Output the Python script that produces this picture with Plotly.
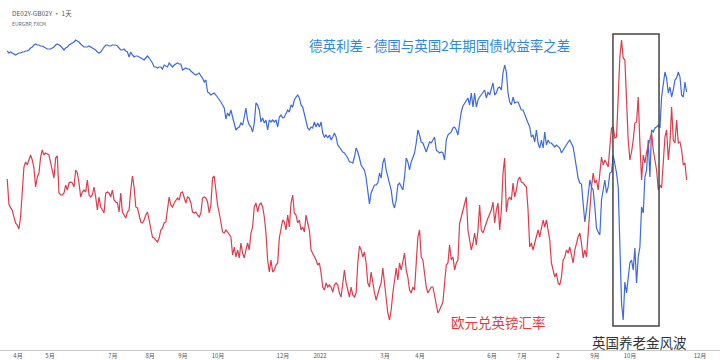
import pandas as pd
import plotly.graph_objects as go

# Sample dates (evenly spaced over the chart span)
dates = pd.date_range("2021-03-22 09:00", "2022-11-19 02:00", periods=408)

# DE02Y - GB02Y spread (bp)
spread_a = [-51,-53,-52,-53,-54,-55,-54,-53,-53,-52,-52,-51,-51,-50,-48,-47,-45,-44,-45,-45,
            -46,-46,-47,-48,-49,-49,-49,-48,-47,-45,-44,-45,-46,-48,-50,-48,-47,-45,-44,-43,
            -42,-40,-41,-42,-44,-46,-47,-47,-47,-46,-47,-48,-49,-50,-52,-53,-52,-49,-47,-45,
            -45,-46,-46,-45,-45,-45,-46]
spread_b = [-48,-50,-50,-49,-51,-52,-57,-52,-55,-57,-56,-56,-57,-58,-59,-60,-58,-56,-58,-60,
            -63,-67,-67,-68,-67,-67,-69,-65,-66,-67,-63,-65,-67,-65,-64,-63,-64,-64,-70,-69,
            -68,-69,-69,-71,-73,-74,-75,-74,-73,-76,-78,-82,-80,-92,-93,-95,-94,-93,-95,-97,
            -99,-102,-105,-108,-119,-113,-116,-110,-117]
spread_c = [-123,-130,-128,-127,-123,-125,-117,-108,-120,-125,-127,-132,-123,-103,-105,-110,-122,-118,-123,-120,
            -130,-120,-122,-120,-122,-120,-127,-117,-115,-118,-117,-113,-110,-112,-105,-107,-100,-97,-95,-98,
            -105,-107,-115,-120,-128,-130,-127,-128,-122,-127,-123,-127,-122,-133,-137,-135,-138,-135,-140,-137,
            -133,-137,-145,-147,-150,-152]
spread_d = [-153,-155,-158,-162,-162,-163,-157,-148,-152,-158,-165,-168,-170,-178,-190,-204,-193,-188,-185,-185,
            -183,-173,-178,-163,-158,-170,-177,-182,-190,-203,-208,-200,-185,-183,-187,-190,-177,-158,-162,-170,
            -162,-157,-153,-143,-130,-135,-142,-143,-148,-152,-147,-142,-143,-140,-137,-150,-152,-153,-152,-153,
            -160,-140,-135,-133,-132,-128,-127,-130,-135]
spread_e = [-123,-112,-106,-103,-100,-98,-105,-93,-107,-93,-107,-100,-97,-95,-93,-90,-98,-92,-95,-88,
            -83,-95,-93,-88,-87,-90,-73,-65,-72,-93,-102,-105,-97,-103,-102,-102,-107,-110,-110,-115,
            -118,-123,-127,-137,-135,-142,-130,-143,-148,-140,-148,-132,-145,-140,-143,-143,-145,-147,-145,-147,
            -148,-153,-150,-148,-145,-142,-140,-143,-147,-157,-167,-178]
spread_f = [-183,-184,-203,-222,-210,-197,-180,-187,-190,-207,-228,-232,-235,-200,-190,-180,-193,-187,-173,-172,
            -155,-163,-173,-187,-237,-303,-320,-282,-293,-277,-263,-260,-270,-248,-283,-257,-247,-207,-213,-177,
            -170,-140,-177,-130,-132,-128,-127,-125,-128,-97,-85,-72,-78,-93,-87,-97,-90,-80,-78,-72,
            -77,-95,-97,-82,-92]
spread_bp = spread_a + spread_b + spread_c + spread_d + spread_e + spread_f

# EURGBP rate
fx_a = [.8763,.8688,.8676,.8670,.8649,.8631,.8625,.8613,.8649,.8724,
        .8799,.8814,.8805,.8820,.8835,.8820,.8796,.8739,.8769,.8781,
        .8829,.8850,.8835,.8841,.8838,.8835,.8811,.8790,.8766,.8826,
        .8832,.8721,.8715,.8715,.8721,.8745,.8730,.8751,.8754,.8751,
        .8739,.8790,.8781,.8751,.8709,.8724,.8730,.8724,.8760,.8715,
        .8709,.8715,.8739,.8709,.8670,.8709,.8679,.8670,.8661,.8721,
        .8724,.8721,.8709,.8730,.8700,.8694,.8691]
fx_b = [.8664,.8721,.8664,.8655,.8646,.8664,.8670,.8730,.8772,.8739,
        .8679,.8676,.8655,.8634,.8631,.8640,.8655,.8664,.8640,.8616,
        .8589,.8586,.8580,.8574,.8586,.8610,.8616,.8631,.8634,.8679,
        .8709,.8685,.8679,.8691,.8700,.8706,.8700,.8721,.8724,.8709,
        .8691,.8709,.8706,.8691,.8664,.8661,.8664,.8655,.8649,.8661,
        .8706,.8709,.8706,.8694,.8661,.8685,.8766,.8772,.8721,.8685,
        .8661,.8631,.8604,.8601,.8610,.8604,.8595,.8589,.8535]
fx_c = [.8559,.8529,.8550,.8526,.8571,.8541,.8526,.8550,.8571,.8550,
        .8601,.8619,.8679,.8691,.8664,.8685,.8691,.8679,.8649,.8601,
        .8520,.8484,.8520,.8484,.8490,.8505,.8511,.8586,.8610,.8640,
        .8634,.8610,.8655,.8619,.8691,.8715,.8661,.8655,.8631,.8640,
        .8610,.8619,.8604,.8655,.8631,.8610,.8550,.8541,.8529,.8520,
        .8505,.8511,.8481,.8439,.8430,.8451,.8439,.8445,.8439,.8424,
        .8445,.8451,.8445,.8421,.8409,.8460]
fx_d = [.8490,.8451,.8430,.8409,.8439,.8415,.8409,.8421,.8511,.8562,
        .8550,.8529,.8544,.8511,.8451,.8439,.8484,.8451,.8421,.8400,
        .8421,.8436,.8451,.8496,.8451,.8409,.8361,.8340,.8370,.8421,
        .8469,.8496,.8460,.8511,.8490,.8520,.8541,.8490,.8469,.8430,
        .8421,.8439,.8430,.8511,.8589,.8610,.8529,.8520,.8469,.8439,
        .8421,.8430,.8439,.8439,.8409,.8379,.8361,.8370,.8385,.8394,
        .8451,.8505,.8511,.8565,.8520,.8529,.8490,.8511,.8520]
fx_e = [.8631,.8649,.8670,.8691,.8709,.8610,.8580,.8550,.8571,.8601,
        .8565,.8610,.8685,.8610,.8601,.8619,.8631,.8646,.8661,.8670,
        .8694,.8631,.8670,.8691,.8610,.8670,.8781,.8826,.8664,.8700,
        .8709,.8700,.8751,.8709,.8730,.8760,.8769,.8754,.8751,.8745,
        .8739,.8670,.8559,.8571,.8550,.8571,.8589,.8610,.8589,.8610,
        .8640,.8619,.8640,.8610,.8580,.8511,.8490,.8469,.8481,.8451,
        .8445,.8469,.8520,.8529,.8550,.8541,.8559,.8529,.8511,.8550,
        .8571,.8589]
fx_f = [.8601,.8571,.8526,.8550,.8529,.8589,.8670,.8739,.8781,.8751,
        .8760,.8730,.8781,.8829,.8805,.8820,.8811,.8799,.8859,.8916,
        .8919,.8886,.8889,.9009,.9129,.9180,.9126,.9120,.9009,.8880,
        .8820,.8844,.8880,.8931,.8934,.9009,.8871,.8760,.8835,.8811,
        .8844,.8865,.8880,.8901,.8850,.8820,.8790,.8730,.8745,.8736,
        .8811,.8889,.8910,.8820,.8871,.8979,.8880,.8871,.8940,.8871,
        .8874,.8850,.8805,.8811,.8760]
eurgbp = fx_a + fx_b + fx_c + fx_d + fx_e + fx_f

# Month boundaries as placed on the (bar-spaced) source axis
tick_dates = ["2021-04-01", "2021-04-29 14:00", "2021-06-24 19:00", "2021-07-27 22:00",
              "2021-08-26 07:00", "2021-09-26 14:00", "2021-11-23 14:00", "2021-12-26 17:00",
              "2022-02-22 17:00", "2022-03-26", "2022-05-29 07:00", "2022-06-25 02:00",
              "2022-07-27 05:00", "2022-08-29 05:00", "2022-09-29 12:00", "2022-12-01"]
tick_text = ["4月", "5月", "7月", "8月", "9月", "10月", "12月", "2022", "3月", "4月",
             "6月", "7月", "2", "9月", "10月", "12月"]

FONT = "Noto Sans CJK SC"
BLUE = "#3d6bdc"
RED = "#dc3d4e"

fig = go.Figure()
fig.add_trace(go.Scatter(x=dates, y=spread_bp, mode="lines",
                         line=dict(color=BLUE, width=1.2), name="DE02Y-GB02Y"))
fig.add_trace(go.Scatter(x=dates, y=eurgbp, mode="lines", yaxis="y2",
                         line=dict(color=RED, width=1.2), name="EURGBP"))

fig.update_layout(
    width=720, height=360,
    margin=dict(l=0, r=0, t=0, b=10),
    paper_bgcolor="white", plot_bgcolor="white",
    showlegend=False,
    font=dict(family=FONT),
    xaxis=dict(range=["2021-03-15 22:00", "2022-12-18 21:00"],
               tickvals=tick_dates, ticktext=tick_text,
               tickfont=dict(size=6, color="#555555", family=FONT),
               showgrid=False, zeroline=False, showline=True,
               linecolor="#c8c8c8", linewidth=1, ticks="", automargin=False),
    yaxis=dict(range=[-350, 0], visible=False, showgrid=False, zeroline=False),
    yaxis2=dict(range=[0.825, 0.93], overlaying="y", visible=False,
                showgrid=False, zeroline=False),
    shapes=[dict(type="rect", xref="x", yref="paper",
                 x0="2022-09-14 07:00", x1="2022-10-25 10:00",
                 y0=1 - 326 / 350, y1=1 - 34 / 350,
                 line=dict(color="#444444", width=1.5), fillcolor="rgba(0,0,0,0)")],
    annotations=[
        dict(text="DE02Y-GB02Y · 1天", xref="paper", yref="paper", x=0.0139, y=0.963,
             xanchor="left", yanchor="middle", showarrow=False,
             font=dict(size=6.5, color="#555555", family=FONT)),
        dict(text="EURGBP, FXCM", xref="paper", yref="paper", x=0.0139, y=0.934,
             xanchor="left", yanchor="middle", showarrow=False,
             font=dict(size=5, color="#666666", family=FONT)),
        dict(text="德英利差 - 德国与英国2年期国债收益率之差", xref="paper", yref="paper",
             x=0.6111, y=1 - 45 / 350, xanchor="center", yanchor="middle", showarrow=False,
             font=dict(size=13.5, color="#2e8ad8", family=FONT)),
        dict(text="欧元兑英镑汇率", xref="paper", yref="paper",
             x=0.6924, y=1 - 322 / 350, xanchor="center", yanchor="middle", showarrow=False,
             font=dict(size=13.5, color="#e03c3c", family=FONT)),
        dict(text="英国养老金风波", xref="paper", yref="paper",
             x=0.8882, y=1 - 342 / 350, xanchor="center", yanchor="middle", showarrow=False,
             font=dict(size=13.5, color="#333333", family=FONT)),
    ],
)

fig.write_html("out.html", config={"displayModeBar": False},
               post_script="document.body.style.margin='0';document.body.style.overflow='hidden';")
